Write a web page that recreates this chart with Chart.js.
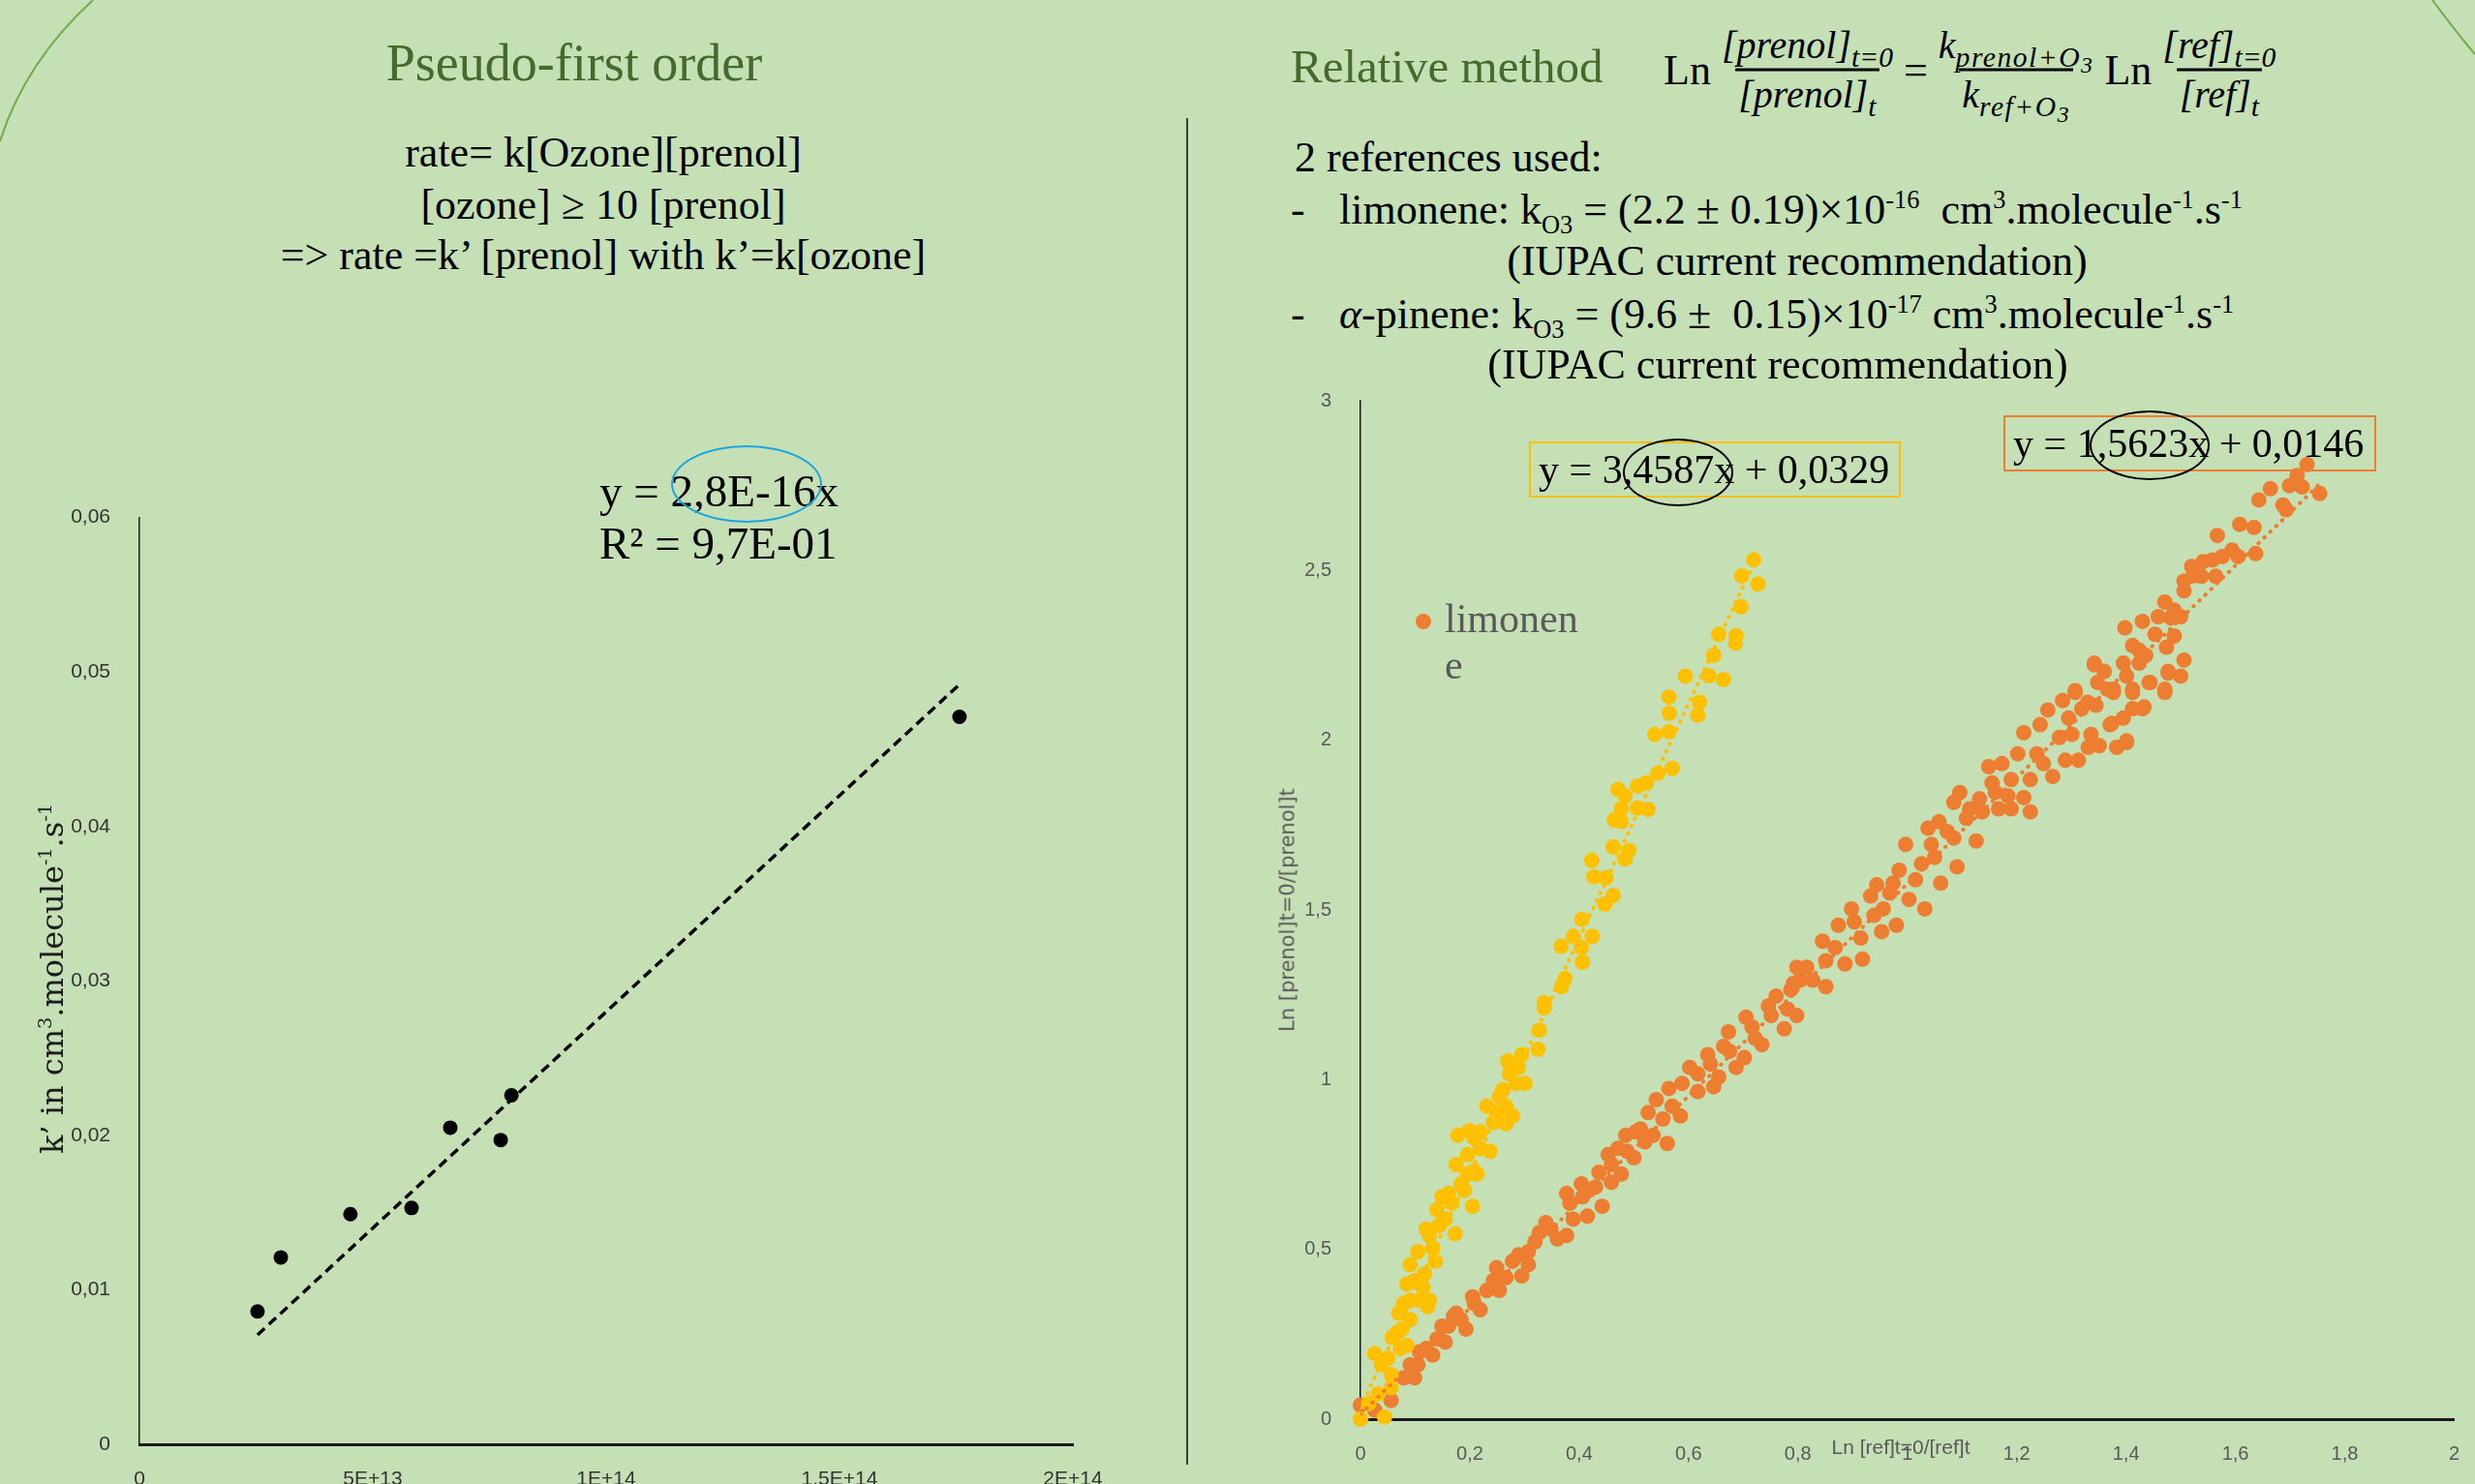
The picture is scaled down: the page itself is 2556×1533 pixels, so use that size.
<!DOCTYPE html>
<html>
<head>
<meta charset="utf-8">
<script src="https://cdn.jsdelivr.net/npm/chart.js@4.4.1/dist/chart.umd.min.js"></script>
<style>
  html, body { margin: 0; padding: 0; }
  body {
    width: 2556px; height: 1533px; position: relative; overflow: hidden;
    background: #c5e0b4; color: #000;
    font-family: "Liberation Serif", "Times New Roman", serif;
  }
  .t { position: absolute; white-space: nowrap; line-height: 1; }
  .c { transform: translate(-50%, -50%); }
  .l { transform: translateY(-50%); }
  .green { color: #456a2b; }
  canvas { position: absolute; }
  sup, sub { font-size: 0.6em; line-height: 0; }
  .body44 { font-size: 44px; }
  .frac { display: inline-flex; flex-direction: column; align-items: center; font-style: italic; font-size: 40px; margin: 0 8px; }
  .frac > span { padding: 0 3px; line-height: 1.2; }
  .frac .den { border-top: 3px solid #000; }
  .frac sub { font-size: 0.74em; }
  .frac sub sub { font-size: 0.8em; }
  .frac .ks { letter-spacing: 1.5px; }
  .up { font-size: 44px; }
  .box { position: absolute; box-sizing: border-box; display: flex; align-items: center; font-size: 42px; padding-left: 8px; white-space: nowrap; }
  .ring { position: absolute; box-sizing: border-box; border-radius: 50%; }
  .rot { position: absolute; white-space: nowrap; line-height: 1; transform: translate(-50%, -50%) rotate(-90deg); }
</style>
</head>
<body>

<svg width="2556" height="1533" style="position:absolute;left:0;top:0">
  <path d="M 96 0 Q 26 64 0 146" stroke="#70ad47" stroke-width="2" fill="none"/>
  <path d="M 2512 0 Q 2534 30 2556 56" stroke="#70ad47" stroke-width="2" fill="none"/>
</svg>

<canvas id="leftChart" width="1200" height="1033" style="left:0;top:500px"></canvas>
<canvas id="rightChart" width="1316" height="1153" style="left:1240px;top:380px"></canvas>

<!-- left panel text -->
<div class="t c green" style="left:593px;top:65px;font-size:54px">Pseudo-first order</div>
<div class="t c body44" style="left:623px;top:158px">rate= k[Ozone][prenol]</div>
<div class="t c body44" style="left:623px;top:212px">[ozone] ≥ 10 [prenol]</div>
<div class="t c body44" style="left:623px;top:264px">=&gt; rate =k’ [prenol] with k’=k[ozone]</div>
<div class="t l" style="left:619px;top:507px;font-size:47px">y = 2,8E-16x</div>
<div class="t l" style="left:619px;top:561px;font-size:47px">R² = 9,7E-01</div>
<div class="ring" style="left:693px;top:460px;width:156px;height:80px;border:2.5px solid #1ea5e0"></div>
<div class="rot" style="left:54px;top:1011px;font-family:'DejaVu Serif',serif;font-size:32px;color:#1a1a1a">k’ in cm<sup>3</sup>.molecule<sup>-1</sup>.s<sup>-1</sup></div>

<div style="position:absolute;left:1225px;top:122px;width:2px;height:1391px;background:#3a3a3a"></div>

<!-- right panel text -->
<div class="t l green" style="left:1333px;top:68px;font-size:49px">Relative method</div>
<div class="t l" style="left:1718px;top:72px;display:flex;align-items:center">
  <span class="up">Ln</span>
  <span class="frac"><span>[prenol]<sub>t=0</sub></span><span class="den">[prenol]<sub>t</sub></span></span>
  <span class="up">=</span>
  <span class="frac"><span>k<sub class="ks">prenol+O<sub>3</sub></sub></span><span class="den">k<sub class="ks">ref+O<sub>3</sub></sub></span></span>
  <span class="up">Ln</span>
  <span class="frac"><span>[ref]<sub>t=0</sub></span><span class="den">[ref]<sub>t</sub></span></span>
</div>
<div class="t l body44" style="left:1337px;top:163px">2 references used:</div>
<div class="t l body44" style="left:1333px;top:217px">-</div>
<div class="t l body44" style="left:1383px;top:217px">limonene: k<sub>O3</sub> = (2.2 ± 0.19)×10<sup>-16</sup>&nbsp; cm<sup>3</sup>.molecule<sup>-1</sup>.s<sup>-1</sup></div>
<div class="t c body44" style="left:1856px;top:270px">(IUPAC current recommendation)</div>
<div class="t l body44" style="left:1333px;top:325px">-</div>
<div class="t l body44" style="left:1383px;top:325px"><i>α</i>-pinene: k<sub>O3</sub> = (9.6 ±&nbsp; 0.15)×10<sup>-17</sup> cm<sup>3</sup>.molecule<sup>-1</sup>.s<sup>-1</sup></div>
<div class="t c body44" style="left:1836px;top:377px">(IUPAC current recommendation)</div>

<div class="box" style="left:1579px;top:456px;width:384px;height:58px;border:2px solid #ffc000">y = 3,4587x + 0,0329</div>
<div class="box" style="left:2069px;top:429px;width:385px;height:58px;border:2px solid #ed7d31">y = 1,5623x + 0,0146</div>
<div class="ring" style="left:1676px;top:453px;width:114px;height:70px;border:2.5px solid #000"></div>
<div class="ring" style="left:2158px;top:424px;width:124px;height:72px;border:2.5px solid #000"></div>

<div style="position:absolute;left:1462px;top:634px;width:16px;height:16px;border-radius:50%;background:#ed7d31"></div>
<div style="position:absolute;left:1492px;top:615px;font-size:42px;line-height:48px;color:#595959">limonen<br>e</div>

<div class="rot" style="left:1330px;top:940px;font-family:'DejaVu Sans',sans-serif;font-size:21px;color:#595959">Ln [prenol]t=0/[prenol]t</div>
<div class="t c" style="left:1963px;top:1494px;font-family:'Liberation Sans',sans-serif;font-size:21px;color:#595959">Ln [ref]t=0/[ref]t</div>

<script>
// k' versus [ozone]
const ozoneConc = [25.3e12, 30.3e12, 45.2e12, 58.3e12, 66.6e12, 77.4e12, 79.7e12, 175.7e12];
const kPrime = [0.0086, 0.0121, 0.0149, 0.0153, 0.0205, 0.0197, 0.0226, 0.0471];
const kSlope = 2.8e-16;
const leftXTicks = ["0", "5E+13", "1E+14", "1,5E+14", "2E+14"];
const leftYTicks = ["0", "0,01", "0,02", "0,03", "0,04", "0,05", "0,06"];

// relative method: Ln [ref]t=0/[ref]t , Ln [prenol]t=0/[prenol]t
const pinenePoints = [
  [0,0],[0.044,0.006],[0.015,0.046],[0.032,0.074],[0.056,0.093],[0.056,0.131],[0.026,0.193],[0.073,0.208],
  [0.085,0.217],[0.058,0.241],[0.076,0.265],[0.091,0.293],[0.070,0.312],[0.123,0.331],[0.079,0.341],[0.126,0.350],
  [0.114,0.389],[0.085,0.398],[0.099,0.408],[0.117,0.427],[0.091,0.455],[0.105,0.493],[0.132,0.503],[0.126,0.541],
  [0.173,0.546],[0.120,0.560],[0.155,0.589],[0.140,0.617],[0.205,0.627],[0.149,0.655],[0.161,0.665],[0.190,0.674],
  [0.184,0.693],[0.213,0.722],[0.208,0.731],[0.175,0.750],[0.196,0.779],[0.237,0.789],[0.208,0.827],[0.178,0.836],
  [0.219,0.846],[0.199,0.850],[0.266,0.870],[0.278,0.893],[0.249,0.903],[0.231,0.922],[0.254,0.950],[0.260,0.970],
  [0.301,0.989],[0.272,1.017],[0.289,1.036],[0.269,1.055],[0.295,1.074],[0.325,1.089],[0.327,1.146],[0.336,1.212],
  [0.336,1.227],[0.368,1.274],[0.374,1.298],[0.406,1.346],[0.367,1.393],[0.404,1.389],[0.389,1.422],[0.424,1.422],
  [0.405,1.472],[0.447,1.517],[0.462,1.543],[0.427,1.598],[0.449,1.595],[0.423,1.646],[0.484,1.650],[0.491,1.675],
  [0.462,1.686],[0.464,1.765],[0.477,1.760],[0.477,1.798],[0.506,1.800],[0.526,1.796],[0.484,1.836],[0.471,1.855],
  [0.507,1.865],[0.523,1.874],[0.544,1.903],[0.570,1.917],[0.538,2.017],[0.564,2.025],[0.617,2.074],[0.565,2.079],
  [0.620,2.112],[0.564,2.127],[0.664,2.179],[0.594,2.189],[0.637,2.190],[0.646,2.250],[0.686,2.286],[0.687,2.308],
  [0.655,2.312],[0.696,2.393],[0.727,2.460],[0.697,2.484],[0.719,2.531],
  [0.038,0.160],[0.050,0.179],[0.067,0.255],[0.091,0.350],[0.108,0.350],[0.137,0.465],[0.143,0.570],[0.167,0.636],
  [0.196,0.722],[0.219,0.798],[0.243,0.874],[0.266,0.922],[0.284,0.989]
];
const limonenePoints = [
  [0.000,0.041],[0.026,0.027],[0.056,0.055],[0.079,0.122],[0.099,0.122],[0.105,0.160],[0.108,0.198],[0.132,0.189],
  [0.140,0.236],[0.155,0.227],[0.149,0.274],[0.170,0.303],[0.193,0.265],[0.175,0.312],[0.205,0.360],[0.219,0.322],
  [0.231,0.379],[0.249,0.446],[0.254,0.379],[0.266,0.417],[0.289,0.484],[0.307,0.493],[0.295,0.422],[0.307,0.455],
  [0.327,0.550],[0.339,0.579],[0.360,0.531],[0.377,0.541],[0.389,0.589],[0.377,0.665],[0.404,0.693],[0.418,0.674],
  [0.415,0.598],[0.442,0.627],[0.436,0.727],[0.459,0.698],[0.477,0.722],[0.453,0.779],[0.471,0.798],[0.485,0.836],
  [0.503,0.846],[0.500,0.770],[0.520,0.817],[0.535,0.836],[0.561,0.812],[0.526,0.903],[0.541,0.941],[0.564,0.974],
  [0.585,0.893],[0.588,0.989],[0.602,1.036],[0.617,0.965],[0.646,0.979],[0.635,1.074],[0.655,1.008],[0.673,1.141],
  [0.664,1.098],[0.687,1.036],[0.702,1.065],[0.705,1.184],[0.716,1.155],[0.734,1.103],[0.746,1.217],[0.760,1.246],
  [0.775,1.150],[0.787,1.265],[0.798,1.189],[0.804,1.293],
  [0.091,0.160],[0.120,0.208],[0.161,0.274],[0.184,0.293],[0.208,0.341],[0.243,0.408],[0.278,0.465],[0.319,0.522],
  [0.348,0.560],[0.383,0.636],[0.406,0.655],[0.430,0.684],[0.459,0.750],[0.488,0.789],[0.512,0.855],[0.553,0.884],
  [0.570,0.922],[0.617,1.017],[0.640,1.046],[0.675,1.084],[0.722,1.122],[0.751,1.189],[0.781,1.208],
  [0.798,1.331],[0.792,1.284],[0.827,1.293],[0.851,1.274],[0.851,1.350],[0.845,1.408],[0.874,1.455],[0.886,1.341],
  [0.898,1.503],[0.918,1.355],[0.915,1.417],[0.939,1.484],[0.953,1.436],[0.933,1.541],[0.944,1.574],[0.980,1.455],
  [0.968,1.550],[1.003,1.531],[1.032,1.503],[0.985,1.617],[0.997,1.693],[1.015,1.589],[1.038,1.741],[1.050,1.655],
  [1.061,1.579],[1.058,1.760],[1.085,1.712],[1.091,1.627],[1.126,1.703],[1.096,1.846],[1.085,1.817],[1.114,1.798],
  [1.137,1.789],[1.149,1.922],[1.173,1.931],[1.155,1.874],[1.167,1.798],[1.190,1.798],[1.213,1.831],[1.225,1.789],
  [1.184,1.836],[1.202,1.960],[1.213,2.022],[1.243,2.046],[1.257,2.089],[1.225,1.884],[1.266,1.893],[1.249,1.931],
  [1.289,1.941],[1.313,1.941],[1.284,2.117],[1.307,2.146],[1.330,2.112],[1.342,2.222],[1.360,2.203],[1.377,2.150],
  [1.336,2.017],[1.351,1.984],[1.371,2.046],[1.383,1.979],[1.401,1.993],[1.395,2.065],[1.412,2.141],[1.424,2.227],
  [1.430,2.093],[1.444,2.170],[1.471,2.150],[1.477,2.203],
  [0.816,1.331],[0.868,1.389],[0.903,1.465],[0.956,1.503],[0.974,1.579],[1.026,1.636],[1.044,1.693],[1.073,1.731],
  [1.108,1.770],[1.132,1.827],[1.161,1.846],[1.190,1.884],[1.237,1.960],[1.278,2.008],[1.295,2.065],[1.319,2.093],
  [1.366,2.150],[1.401,2.189],
  [1.301,2.017],[1.331,1.979],[1.401,1.998],[1.374,2.050],[1.412,2.093],[1.433,2.098],[1.307,2.141],[1.342,2.227],
  [1.348,2.170],[1.377,2.141],[1.412,2.150],[1.395,2.227],[1.442,2.170],[1.471,2.141],[1.477,2.198],[1.500,2.189],
  [1.506,2.236],[1.474,2.274],[1.488,2.307],[1.398,2.331],[1.430,2.350],[1.412,2.279],[1.436,2.250],[1.459,2.364],
  [1.471,2.407],[1.500,2.364],[1.488,2.383],[1.506,2.440],[1.506,2.469],[1.520,2.512],[1.538,2.483],[1.564,2.483],
  [1.541,2.526],[1.558,2.531],[1.576,2.541],[1.594,2.560],[1.567,2.603],[1.605,2.541],[1.637,2.550],[1.608,2.636],
  [1.634,2.627],[1.643,2.708],[1.664,2.741],[1.687,2.693],[1.693,2.679],[1.699,2.750],[1.713,2.780],[1.731,2.812],
  [1.722,2.746],[1.754,2.727],
  [1.345,2.103],[1.424,2.265],[1.453,2.312],[1.482,2.360],[1.523,2.484]
];
const pineneFit = [3.4587, 0.0329];
const limoneneFit = [1.5623, 0.0146];
const rightXTicks = ["0", "0,2", "0,4", "0,6", "0,8", "1", "1,2", "1,4", "1,6", "1,8", "2"];
const rightYTicks = ["0", "0,5", "1", "1,5", "2", "2,5", "3"];

const YELLOW = "#ffc000";
const ORANGE = "#ed7d31";

function toXY(points) {
  return points.map(p => ({ x: p[0], y: p[1] }));
}

// trendline over the x range of the data
function trend(xs, slope, intercept) {
  const x0 = Math.min(...xs), x1 = Math.max(...xs);
  return [{ x: x0, y: slope * x0 + intercept }, { x: x1, y: slope * x1 + intercept }];
}

function axis(opts) {
  return {
    type: "linear",
    min: opts.min, max: opts.max,
    afterFit: opts.fit,
    grid: { display: false },
    border: { display: true, color: opts.lineColor, width: opts.lineWidth },
    ticks: {
      stepSize: opts.step,
      autoSkip: false,
      maxRotation: 0,
      padding: opts.pad,
      color: opts.color,
      font: { family: "'Liberation Sans', Arial, sans-serif", size: opts.size },
      callback: (v, i) => opts.labels[i]
    }
  };
}

Chart.defaults.animation = false;

new Chart(document.getElementById("leftChart"), {
  type: "scatter",
  data: {
    datasets: [
      {
        type: "line",
        data: trend(ozoneConc, kSlope, 0),
        borderColor: "#000",
        borderWidth: 3.5,
        borderDash: [10, 6],
        pointRadius: 0,
        fill: false
      },
      {
        data: ozoneConc.map((x, i) => ({ x: x, y: kPrime[i] })),
        backgroundColor: "#000",
        borderWidth: 0,
        pointRadius: 7.5,
        clip: false
      }
    ]
  },
  options: {
    responsive: false,
    layout: { padding: { left: 0, top: 34, right: 92, bottom: 0 } },
    plugins: { legend: { display: false }, tooltip: { enabled: false } },
    scales: {
      x: axis({ min: 0, max: 2e14, step: 5e13, labels: leftXTicks, pad: 16, color: "#333", size: 21,
                lineColor: "#1a1a1a", lineWidth: 3, fit: s => { s.height = 41; } }),
      y: axis({ min: 0, max: 0.06, step: 0.01, labels: leftYTicks, pad: 22, color: "#333", size: 21,
                lineColor: "#1a1a1a", lineWidth: 1.5, fit: s => { s.width = 144; } })
    }
  }
});

new Chart(document.getElementById("rightChart"), {
  type: "scatter",
  data: {
    datasets: [
      {
        type: "line",
        data: trend(pinenePoints.map(p => p[0]), pineneFit[0], pineneFit[1]),
        borderColor: YELLOW,
        borderWidth: 4,
        borderDash: [0.5, 8],
        borderCapStyle: "round",
        pointRadius: 0,
        fill: false
      },
      {
        type: "line",
        data: trend(limonenePoints.map(p => p[0]), limoneneFit[0], limoneneFit[1]),
        borderColor: ORANGE,
        borderWidth: 4,
        borderDash: [0.5, 8],
        borderCapStyle: "round",
        pointRadius: 0,
        fill: false
      },
      {
        label: "α-pinene",
        data: toXY(pinenePoints),
        backgroundColor: YELLOW,
        borderWidth: 0,
        pointRadius: 8,
        clip: false
      },
      {
        label: "limonene",
        data: toXY(limonenePoints),
        backgroundColor: ORANGE,
        borderWidth: 0,
        pointRadius: 8,
        clip: false
      }
    ]
  },
  options: {
    responsive: false,
    layout: { padding: { left: 0, top: 34, right: 12, bottom: 0 } },
    plugins: { legend: { display: false }, tooltip: { enabled: false } },
    scales: {
      x: axis({ min: 0, max: 2, step: 0.2, labels: rightXTicks, pad: 16, color: "#595959", size: 20,
                lineColor: "#1a1a1a", lineWidth: 3, fit: s => { s.height = 67; } }),
      y: axis({ min: 0, max: 3, step: 0.5, labels: rightYTicks, pad: 22, color: "#595959", size: 20,
                lineColor: "#1a1a1a", lineWidth: 1.5, fit: s => { s.width = 165; } })
    }
  }
});
</script>
</body>
</html>
